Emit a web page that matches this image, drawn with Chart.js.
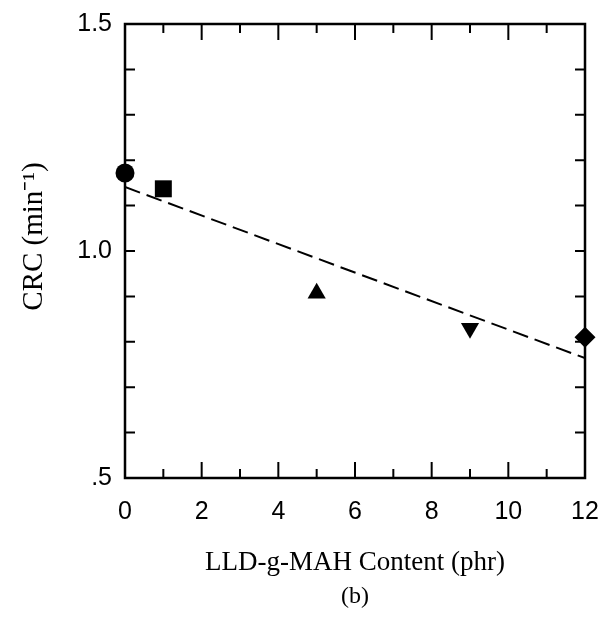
<!DOCTYPE html>
<html>
<head>
<meta charset="utf-8">
<script src="https://cdn.jsdelivr.net/npm/chart.js@4"></script>
<style>
  body { margin: 0; background: #fff; }
  #wrap { position: relative; width: 602px; height: 629px; }
  #legenda {
    position: absolute; left: 325px; top: 582px; width: 60px;
    text-align: center; font: 24px "Liberation Serif", "Times New Roman", serif; color: #000;
  }
</style>
</head>
<body>
<div id="wrap">
  <canvas id="grafico" width="602" height="629"></canvas>
  <div id="legenda">(b)</div>
</div>
<script>
// dados
const conteudoMAH = [0, 1, 5, 9, 12];
const valoresCRC = [1.172, 1.137, 0.907, 0.83, 0.81];
const marcadores = ["circle", "rect", "triangle", "triangle", "rectRot"];
const rotacoes = [0, 0, 0, 180, 0];
const tamanhos = [9.5, 12, 10.5, 10.5, 10.5];
const ajusteX = [0, 12];
const ajusteY = [1.141, 0.764];
const rotulosY = { 0.5: ".5", 1: "1.0", 1.5: "1.5" };

const datasets = conteudoMAH.map((x, i) => ({
  type: "scatter",
  data: [{ x: x, y: valoresCRC[i] }],
  pointStyle: marcadores[i],
  rotation: rotacoes[i],
  pointRadius: tamanhos[i],
  backgroundColor: "#000",
  borderColor: "#000",
  borderWidth: 0,
  clip: false,
}));

datasets.push({
  type: "line",
  data: ajusteX.map((x, i) => ({ x: x, y: ajusteY[i] })),
  borderColor: "#000",
  borderWidth: 2,
  borderDash: [16, 7],
  pointRadius: 0,
  fill: false,
});

// ticks para dentro + moldura
const ticksParaDentro = {
  id: "ticksParaDentro",
  afterDatasetsDraw(chart) {
    const ctx = chart.ctx;
    const area = chart.chartArea;
    const sx = chart.scales.x;
    const sy = chart.scales.y;
    ctx.save();
    ctx.strokeStyle = "#000";
    ctx.lineWidth = 2;
    for (let v = 1; v < 12; v++) {
      const px = sx.getPixelForValue(v);
      const len = v % 2 === 0 ? 16 : 9;
      ctx.beginPath();
      ctx.moveTo(px, area.bottom);
      ctx.lineTo(px, area.bottom - len);
      ctx.moveTo(px, area.top);
      ctx.lineTo(px, area.top + len);
      ctx.stroke();
    }
    for (let k = 6; k < 15; k++) {
      const py = sy.getPixelForValue(k / 10);
      ctx.beginPath();
      ctx.moveTo(area.left, py);
      ctx.lineTo(area.left + 10, py);
      ctx.moveTo(area.right, py);
      ctx.lineTo(area.right - 10, py);
      ctx.stroke();
    }
    ctx.lineWidth = 2.5;
    ctx.strokeRect(area.left, area.top, area.right - area.left, area.bottom - area.top);
    ctx.restore();
  },
};

const ctx = document.getElementById("grafico").getContext("2d");

new Chart(ctx, {
  data: { datasets: datasets },
  options: {
    responsive: false,
    animation: false,
    layout: { padding: { top: 24, right: 0, bottom: 0, left: 0 } },
    plugins: { legend: { display: false }, tooltip: { enabled: false } },
    scales: {
      x: {
        type: "linear",
        min: 0,
        max: 12,
        afterFit: (s) => {
          s.height = 151;
          s.paddingLeft = 0;
          s.paddingRight = 17;
        },
        grid: { display: false, drawTicks: false },
        border: { display: false },
        ticks: {
          stepSize: 2,
          padding: 19,
          color: "#000",
          font: { family: "'Liberation Sans', Arial, sans-serif", size: 25 },
        },
        title: {
          display: true,
          text: "LLD-g-MAH Content (phr)",
          color: "#000",
          font: { family: "'Liberation Serif', 'Times New Roman', serif", size: 27 },
          padding: { top: 0, bottom: 50 },
        },
      },
      y: {
        type: "linear",
        min: 0.5,
        max: 1.5,
        afterFit: (s) => {
          s.width = 125;
          s.paddingTop = 0;
          s.paddingBottom = 0;
        },
        grid: { display: false, drawTicks: false },
        border: { display: false },
        ticks: {
          stepSize: 0.5,
          padding: 13,
          color: "#000",
          font: { family: "'Liberation Sans', Arial, sans-serif", size: 25 },
          callback: (v) => rotulosY[v] || "",
        },
        title: {
          display: true,
          text: "\u2003CRC (min⁻¹)",
          color: "#000",
          font: { family: "'Liberation Serif', 'Times New Roman', serif", size: 29 },
          padding: { top: 17, bottom: 0 },
        },
      },
    },
  },
  plugins: [ticksParaDentro],
});
</script>
</body>
</html>
